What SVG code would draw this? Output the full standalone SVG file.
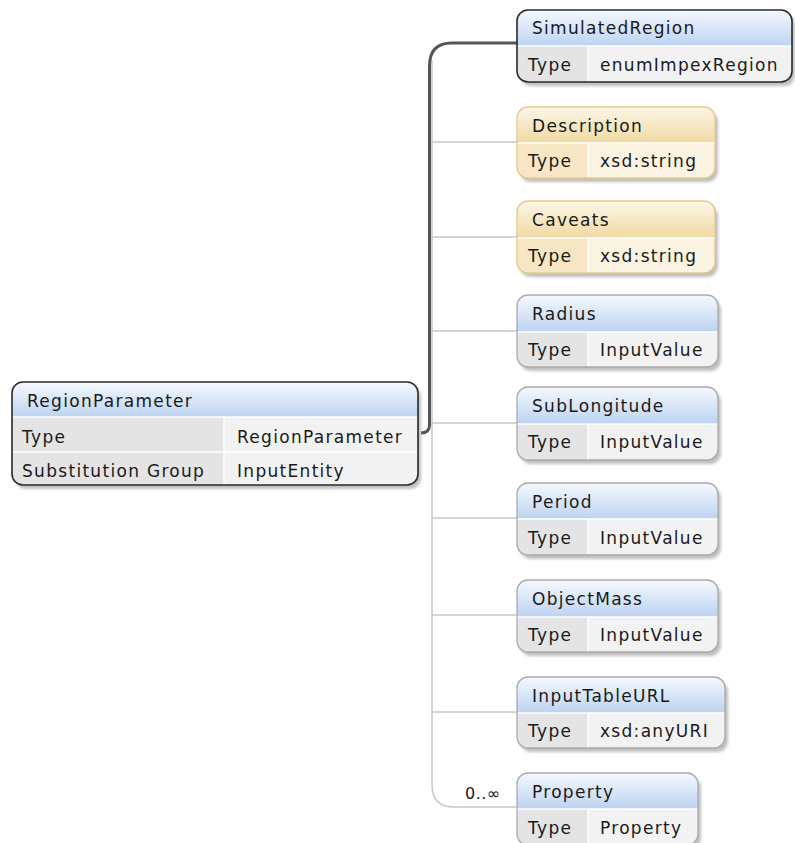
<svg xmlns="http://www.w3.org/2000/svg" width="795" height="843" viewBox="0 0 795 843">
<style>
text{font-family:"DejaVu Sans","Liberation Sans",sans-serif;font-size:17px;letter-spacing:1.3px;fill:#1a1a1a}
.sh{fill:#8a8a8a;opacity:.55;filter:url(#blur)}
.bd{fill:none;stroke:#aaaaaa;stroke-width:1.3}
.dk{fill:none;stroke:#2a2a2a;stroke-width:1.6}
.or{fill:none;stroke:#e6c98d;stroke-width:1.3}
.hb{fill:url(#gb)}
.ho{fill:url(#go)}
.lb{fill:#e4e4e4}
.vb{fill:#f2f2f2}
.lo{fill:#f7e6c4}
.vo{fill:#fcf4e3}
.sep{stroke:#ffffff;stroke-width:1.5}
.thin{fill:none;stroke:#c8c8c8;stroke-width:1.5}
.thick{fill:none;stroke:#555555;stroke-width:3}
</style>
<defs>
<linearGradient id="gb" x1="0" y1="0" x2="0" y2="1"><stop offset="0" stop-color="#f6f9fe"/><stop offset="1" stop-color="#bcd3f1"/></linearGradient>
<linearGradient id="go" x1="0" y1="0" x2="0" y2="1"><stop offset="0" stop-color="#fdf7e8"/><stop offset="1" stop-color="#f0d9a2"/></linearGradient>
<filter id="blur" x="-10%" y="-10%" width="120%" height="130%"><feGaussianBlur stdDeviation="1.5"/></filter>
<clipPath id="c0"><rect x="12" y="382" width="406" height="103" rx="11"/></clipPath>
<clipPath id="c1"><rect x="517" y="10" width="275" height="72" rx="11"/></clipPath>
<clipPath id="c2"><rect x="517" y="107" width="198" height="71" rx="11"/></clipPath>
<clipPath id="c3"><rect x="517" y="201" width="198" height="72" rx="11"/></clipPath>
<clipPath id="c4"><rect x="517" y="295" width="201" height="72" rx="11"/></clipPath>
<clipPath id="c5"><rect x="517" y="387" width="201" height="73" rx="11"/></clipPath>
<clipPath id="c6"><rect x="517" y="483" width="201" height="72" rx="11"/></clipPath>
<clipPath id="c7"><rect x="517" y="580" width="201" height="72" rx="11"/></clipPath>
<clipPath id="c8"><rect x="517" y="677" width="208" height="71" rx="11"/></clipPath>
<clipPath id="c9"><rect x="517" y="773" width="181" height="72" rx="11"/></clipPath>
</defs>
<rect width="795" height="843" fill="#ffffff"/>

<g id="connectors">
<path class="thin" d="M432,60 V785 Q432,807 454,807 H517"/>
<path class="thin" d="M432,142 H517 M432,237 H517 M432,331 H517 M432,423 H517 M432,518 H517 M432,615 H517 M432,712 H517"/>
<path class="thick" d="M421,433 Q429.5,433 429.5,425 V66 Q429.5,43 452,43 H517"/>
<text x="465" y="799" style="font-size:16px;letter-spacing:0.5px">0..∞</text>
</g>

<g id="RegionParameter">
<rect class="sh" x="15" y="386" width="406" height="103" rx="11"/>
<g clip-path="url(#c0)">
<rect class="hb" x="12" y="382" width="406" height="35"/>
<rect class="lb" x="12" y="417" width="212" height="68"/>
<rect class="vb" x="224" y="417" width="194" height="68"/>
<line class="sep" x1="12" y1="417" x2="418" y2="417"/>
<line class="sep" x1="12" y1="452" x2="418" y2="452"/>
<line class="sep" x1="224" y1="417" x2="224" y2="485"/>
</g>
<rect class="dk" x="12" y="382" width="406" height="103" rx="11"/>
<text x="27" y="407">RegionParameter</text>
<text x="22" y="443">Type</text>
<text x="237" y="443">RegionParameter</text>
<text x="22" y="477">Substitution Group</text>
<text x="237" y="477">InputEntity</text>
</g>

<g id="SimulatedRegion">
<rect class="sh" x="520" y="14" width="275" height="72" rx="11"/>
<g clip-path="url(#c1)">
<rect class="hb" x="517" y="10" width="275" height="36"/>
<rect class="lb" x="517" y="46" width="71" height="36"/>
<rect class="vb" x="588" y="46" width="204" height="36"/>
<line class="sep" x1="517" y1="46" x2="792" y2="46"/>
<line class="sep" x1="588" y1="46" x2="588" y2="82"/>
</g>
<rect class="dk" x="517" y="10" width="275" height="72" rx="11"/>
<text x="532" y="34">SimulatedRegion</text>
<text x="528" y="71">Type</text>
<text x="600" y="71">enumImpexRegion</text>
</g>

<g id="Description">
<rect class="sh" x="520" y="111" width="198" height="71" rx="11"/>
<g clip-path="url(#c2)">
<rect class="ho" x="517" y="107" width="198" height="36"/>
<rect class="lo" x="517" y="143" width="71" height="35"/>
<rect class="vo" x="588" y="143" width="127" height="35"/>
<line class="sep" x1="517" y1="143" x2="715" y2="143"/>
<line class="sep" x1="588" y1="143" x2="588" y2="178"/>
</g>
<rect class="or" x="517" y="107" width="198" height="71" rx="11"/>
<text x="532" y="132">Description</text>
<text x="528" y="167">Type</text>
<text x="600" y="167">xsd:string</text>
</g>

<g id="Caveats">
<rect class="sh" x="520" y="205" width="198" height="72" rx="11"/>
<g clip-path="url(#c3)">
<rect class="ho" x="517" y="201" width="198" height="37"/>
<rect class="lo" x="517" y="238" width="71" height="35"/>
<rect class="vo" x="588" y="238" width="127" height="35"/>
<line class="sep" x1="517" y1="238" x2="715" y2="238"/>
<line class="sep" x1="588" y1="238" x2="588" y2="273"/>
</g>
<rect class="or" x="517" y="201" width="198" height="72" rx="11"/>
<text x="532" y="226">Caveats</text>
<text x="528" y="262">Type</text>
<text x="600" y="262">xsd:string</text>
</g>

<g id="Radius">
<rect class="sh" x="520" y="299" width="201" height="72" rx="11"/>
<g clip-path="url(#c4)">
<rect class="hb" x="517" y="295" width="201" height="37"/>
<rect class="lb" x="517" y="332" width="71" height="35"/>
<rect class="vb" x="588" y="332" width="130" height="35"/>
<line class="sep" x1="517" y1="332" x2="718" y2="332"/>
<line class="sep" x1="588" y1="332" x2="588" y2="367"/>
</g>
<rect class="bd" x="517" y="295" width="201" height="72" rx="11"/>
<text x="532" y="320">Radius</text>
<text x="528" y="356">Type</text>
<text x="600" y="356">InputValue</text>
</g>

<g id="SubLongitude">
<rect class="sh" x="520" y="391" width="201" height="73" rx="11"/>
<g clip-path="url(#c5)">
<rect class="hb" x="517" y="387" width="201" height="37"/>
<rect class="lb" x="517" y="424" width="71" height="36"/>
<rect class="vb" x="588" y="424" width="130" height="36"/>
<line class="sep" x1="517" y1="424" x2="718" y2="424"/>
<line class="sep" x1="588" y1="424" x2="588" y2="460"/>
</g>
<rect class="bd" x="517" y="387" width="201" height="73" rx="11"/>
<text x="532" y="412">SubLongitude</text>
<text x="528" y="448">Type</text>
<text x="600" y="448">InputValue</text>
</g>

<g id="Period">
<rect class="sh" x="520" y="487" width="201" height="72" rx="11"/>
<g clip-path="url(#c6)">
<rect class="hb" x="517" y="483" width="201" height="36"/>
<rect class="lb" x="517" y="519" width="71" height="36"/>
<rect class="vb" x="588" y="519" width="130" height="36"/>
<line class="sep" x1="517" y1="519" x2="718" y2="519"/>
<line class="sep" x1="588" y1="519" x2="588" y2="555"/>
</g>
<rect class="bd" x="517" y="483" width="201" height="72" rx="11"/>
<text x="532" y="508">Period</text>
<text x="528" y="544">Type</text>
<text x="600" y="544">InputValue</text>
</g>

<g id="ObjectMass">
<rect class="sh" x="520" y="584" width="201" height="72" rx="11"/>
<g clip-path="url(#c7)">
<rect class="hb" x="517" y="580" width="201" height="37"/>
<rect class="lb" x="517" y="617" width="71" height="35"/>
<rect class="vb" x="588" y="617" width="130" height="35"/>
<line class="sep" x1="517" y1="617" x2="718" y2="617"/>
<line class="sep" x1="588" y1="617" x2="588" y2="652"/>
</g>
<rect class="bd" x="517" y="580" width="201" height="72" rx="11"/>
<text x="532" y="605">ObjectMass</text>
<text x="528" y="641">Type</text>
<text x="600" y="641">InputValue</text>
</g>

<g id="InputTableURL">
<rect class="sh" x="520" y="681" width="208" height="71" rx="11"/>
<g clip-path="url(#c8)">
<rect class="hb" x="517" y="677" width="208" height="36"/>
<rect class="lb" x="517" y="713" width="71" height="35"/>
<rect class="vb" x="588" y="713" width="137" height="35"/>
<line class="sep" x1="517" y1="713" x2="725" y2="713"/>
<line class="sep" x1="588" y1="713" x2="588" y2="748"/>
</g>
<rect class="bd" x="517" y="677" width="208" height="71" rx="11"/>
<text x="532" y="702">InputTableURL</text>
<text x="528" y="737">Type</text>
<text x="600" y="737">xsd:anyURI</text>
</g>

<g id="Property">
<rect class="sh" x="520" y="777" width="181" height="72" rx="11"/>
<g clip-path="url(#c9)">
<rect class="hb" x="517" y="773" width="181" height="36"/>
<rect class="lb" x="517" y="809" width="71" height="36"/>
<rect class="vb" x="588" y="809" width="110" height="36"/>
<line class="sep" x1="517" y1="809" x2="698" y2="809"/>
<line class="sep" x1="588" y1="809" x2="588" y2="845"/>
</g>
<rect class="bd" x="517" y="773" width="181" height="72" rx="11"/>
<text x="532" y="798">Property</text>
<text x="528" y="834">Type</text>
<text x="600" y="834">Property</text>
</g>
</svg>
